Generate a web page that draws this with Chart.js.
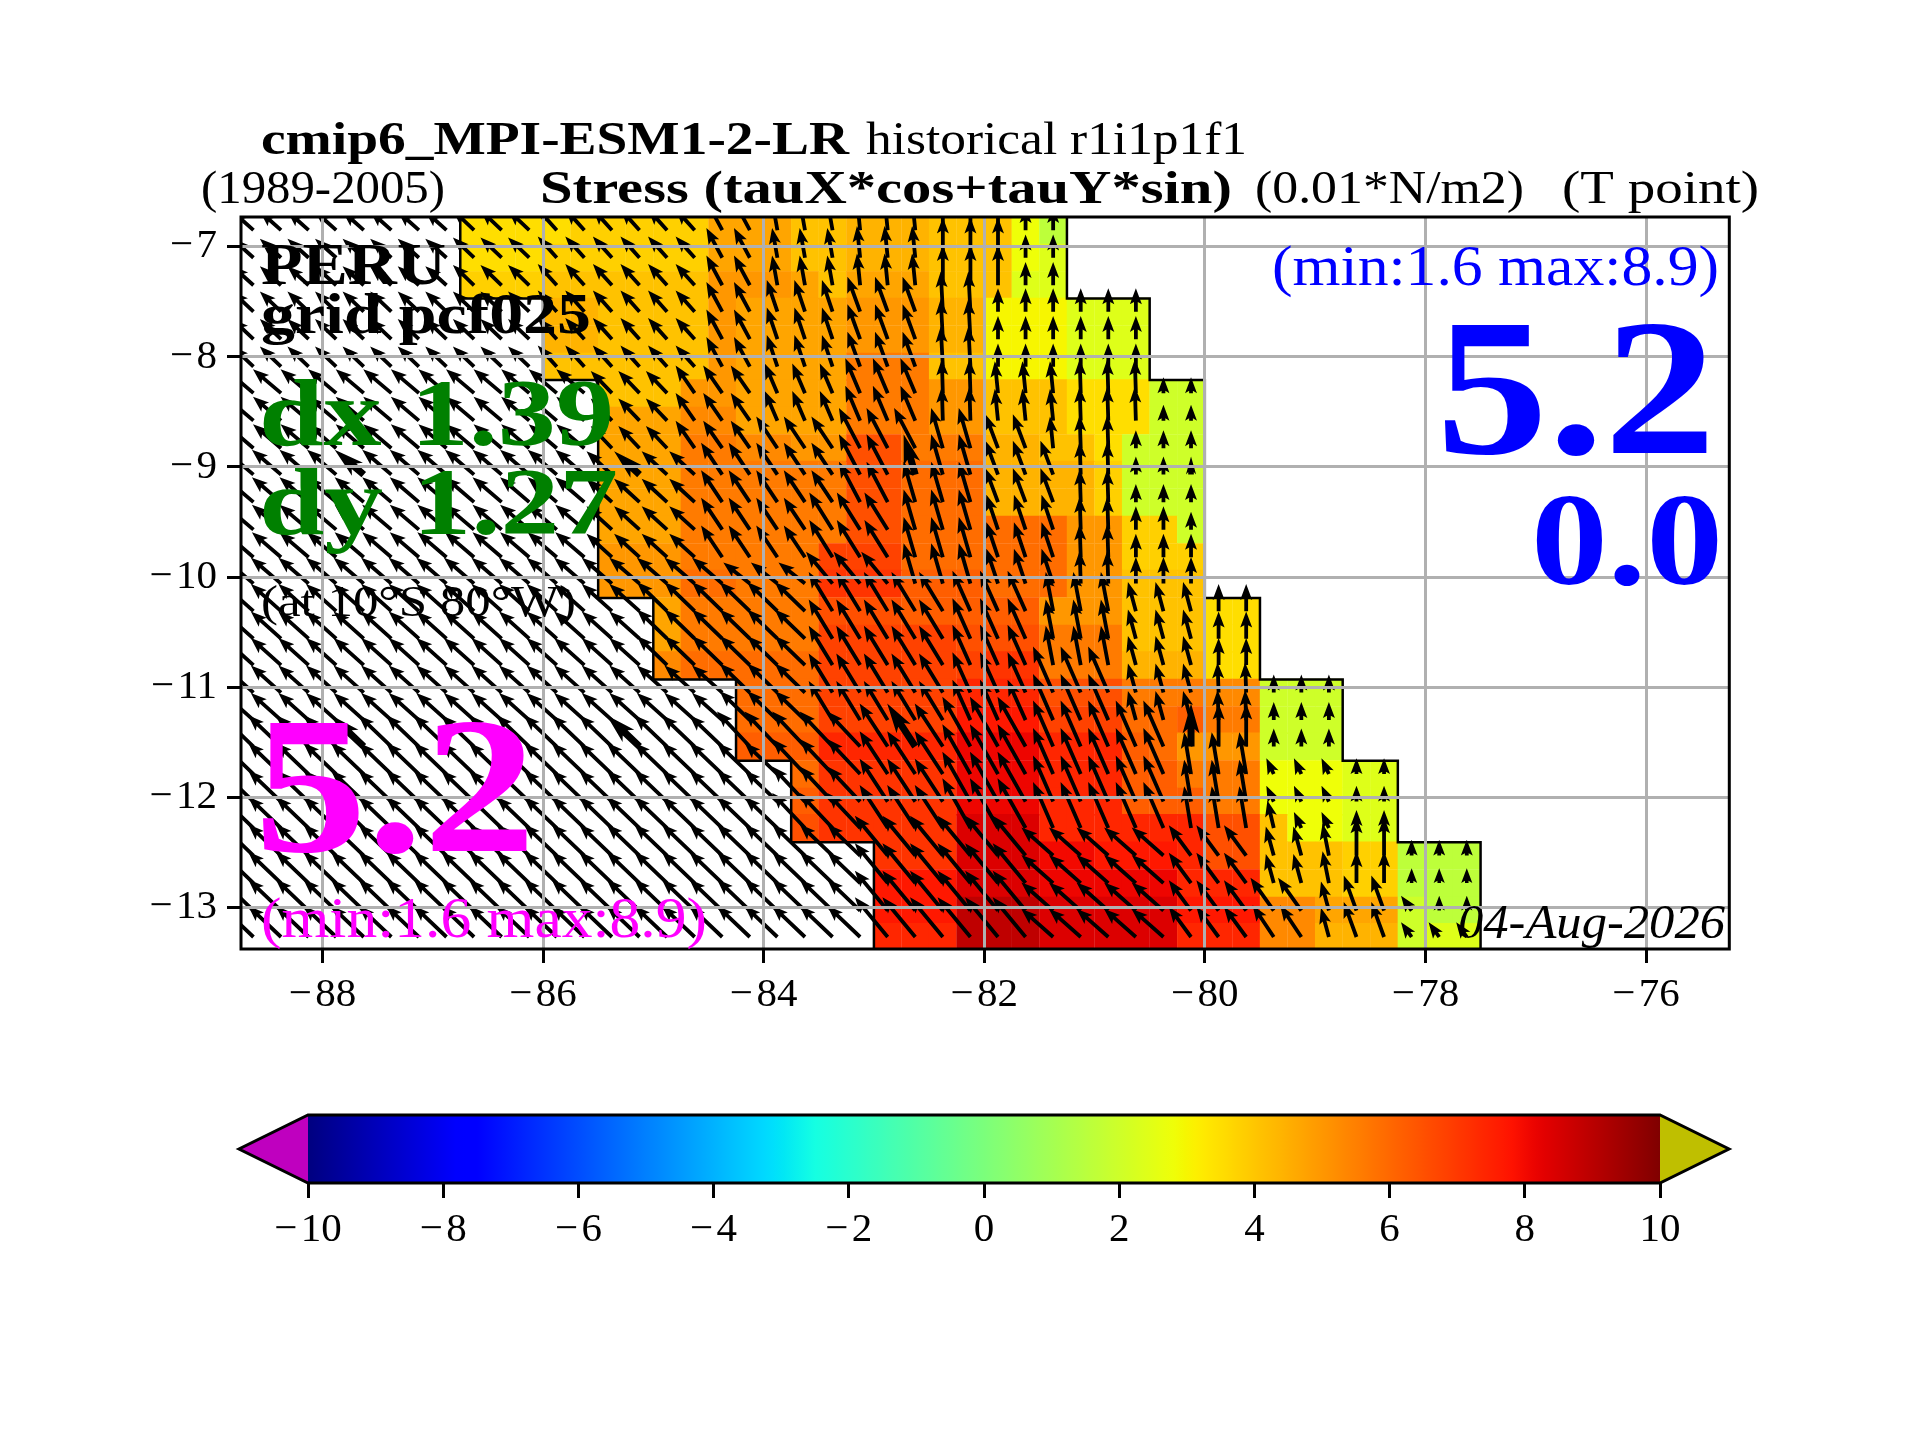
<!DOCTYPE html>
<html>
<head>
<meta charset="utf-8">
<title>Stress along the coast of Peru</title>
<script src="https://cdn.jsdelivr.net/npm/chart.js@4"></script>
<style>
  html, body { margin: 0; background: #fff; }
  canvas { position: absolute; left: 0; top: 0; }
</style>
</head>
<body>
<canvas id="mapCanvas" width="1920" height="1440"></canvas>
<canvas id="barCanvas" width="1920" height="1440"></canvas>
<script>
// Axes
const lonTicks = [-88, -86, -84, -82, -80, -78, -76];
const latTicks = [-7, -8, -9, -10, -11, -12, -13];
const lonRange = [-88.738, -75.245];
const latRange = [-13.379, -6.73];
const colorbarTicks = [-10, -8, -6, -4, -2, 0, 2, 4, 6, 8, 10];

// T point grid, cell centres
const cellLons = [-88.625, -88.375, -88.125, -87.875, -87.625, -87.375, -87.125, -86.875, -86.625,
  -86.375, -86.125, -85.875, -85.625, -85.375, -85.125, -84.875, -84.625, -84.375, -84.125, -83.875,
  -83.625, -83.375, -83.125, -82.875, -82.625, -82.375, -82.125, -81.875, -81.625, -81.375, -81.125,
  -80.875, -80.625, -80.375, -80.125, -79.875, -79.625, -79.375, -79.125, -78.875, -78.625, -78.375,
  -78.125, -77.875, -77.625];
const cellLats = [-6.85, -7.10, -7.35, -7.59, -7.84, -8.09, -8.33, -8.58, -8.83, -9.07, -9.32, -9.57,
  -9.82, -10.06, -10.31, -10.56, -10.80, -11.05, -11.30, -11.54, -11.79, -12.04, -12.28, -12.53,
  -12.78, -13.03, -13.27];

// Stress levels (0.01*N/m2)
const levelKeys = "abcdefghijklmnopqrstuvwx";
const levelValues = [1.6, 2.0, 2.4, 2.8, 3.0, 3.5, 3.8, 4.1, 4.4, 4.7, 5.0, 5.3, 5.6, 5.9, 6.2, 6.5,
  6.8, 7.1, 7.4, 7.7, 8.0, 8.1, 8.4, 8.9];

// One string per latitude, runs of <count><level>, "." is no value
const stressRuns = [
  "8. 4f 5g 3j 2h 3i 3h 1d 1a",
  "8. 3f 6g 3j 2h 3i 3h 1d 1c",
  "8. 3g 6h 3k 1j 1h 3j 3h 2c",
  "11. 2i 4h 1k 4j 3k 2i 3e 3c",
  "11. 2i 4h 1k 4j 3k 2i 3e 3c",
  "11. 6h 1k 4j 3m 2h 3e 3c",
  "13. 3h 2k 4j 3m 2k 3h 3f 2b",
  "13. 3j 2l 4j 3m 2k 3h 3f 2b",
  "13. 3j 2m 2l 2k 2p 3m 2i 2h 1f 3b",
  "13. 3j 6m 2p 3n 4i 1g 3b",
  "13. 3j 6m 2p 3n 4i 1g 3b",
  "13. 3j 6m 2p 6n 2k 2g 1b",
  "13. 3k 5m 3q 6n 2k 3g",
  "13. 3k 2n 3m 3r 3o 3n 2k 3h",
  "15. 1j 5m 3p 5o 3k 3h 2f",
  "15. 1j 5m 5q 3p 3m 3h 2f",
  "15. 1l 5n 6q 2r 3m 3i 2f",
  "18. 3n 5q 3s 3p 3m 2l 3b",
  "18. 3n 5q 3t 3q 2n 1o 2m 3b",
  "18. 3o 5s 3v 3s 1o 1n 3k 3b",
  "20. 1n 5r 3v 3s 2o 3m 3d 2c",
  "20. 1o 5r 3v 3s 3o 2m 3d 2c",
  "20. 1p 5r 3w 6s 2p 1h 2d 2c",
  "23. 3r 3w 2u 3t 1s 2p 3h 2g 3a",
  "23. 3t 3w 5v 3s 3h 2g 3a",
  "23. 3t 3x 5w 3t 2l 3j 1b 2a",
  "23. 3s 3x 5w 3s 2l 3i 1b 2c"
];

// Stress vectors that occur on the map
const arrowKinds = "ABCDEFGHIJKLMNOPQRSUVWXYZabcdefghijklmnopqrtvxyz0126789345";
const arrowU = [-4.0, -4.0, -5.3, -5.5, -5.7, -5.7, -6.2, -3.6, -3.0, -4.0, -1.0, -0.6, 0, 0, -2.0,
  -2.4, -0.4, -2.4, -2.8, -0.2, -4.0, -4.0, -2.2, -2.4, -0.2, 0, -4.4, -2.2, -5.0, -5.0, -5.7, -4.5,
  -3.4, -6.2, -5.3, -5.3, -1.4, -1.5, 0, -1.3, -1.4, 0, 0, -1.2, -4.4, 0, -2.0, -3.8, -3.6, -4.8, 0,
  -6.0, -4.2, -1.2, 0, -6.2, -0.2, 0];
const arrowV = [3.6, 3.8, 4.5, 4.7, 4.9, 5.1, 5.9, 4.0, 5.6, 4.2, 5.6, 6.0, 7.6, 4.4, 6.0, 6.6, 7.6,
  5.6, 6.6, 6.4, 6.0, 7.6, 7.6, 6.4, 6.2, 3.4, 7.0, 6.6, 4.0, 6.0, 5.5, 7.4, 7.6, 6.6, 8.1, 9.4, 7.4,
  5.5, 5.1, 7.9, 3.0, 3.0, 7.2, 5.2, 6.2, 2.8, 2.8, 8.7, 5.2, 4.4, 5.0, 5.3, 5.7, 6.0, 6.0, 7.5, 5.7, 8.1];

const arrowRuns = [
  "8A 3B 6H 2I 3K 3L 3M 2N",
  "8A 3B 6H 2I 3K 3L 3M 2N",
  "8A 3B 6H 2I 3K 3L 3M 2N",
  "11B 6H 2I 3O 3P 2Q 6N",
  "11B 6H 2I 3O 3P 2Q 6N",
  "11B 6H 2I 3O 3P 2Q 6N",
  "13C 3J 30 3R 3S 2U 3L 3U 2q",
  "13C 3J 30 3R 3S 2U 3L 3U 2q",
  "13C 3J 30 3V 3W 2X 2Y 1L 2Z 3a",
  "13D 41 5V 2W 3X 3Y 2Z 3a",
  "13D 41 5V 2W 3X 3Y 2Z 3a",
  "13D 41 4V 3b 3X 3c 2Z 2N 1a",
  "13D 41 4V 3b 3X 3c 2Z 3N",
  "18E 3d 3e 3X 3c 2Z 32",
  "15F 6f 5g 3h 3l 3m 2n",
  "15F 6f 5g 3h 3l 3m 2n",
  "15F 6f 5g 3h 3l 3m 2n",
  "18F 3f 5g 3h 3z 3m 24 3a",
  "18F 3f 5g 3h 3z 3m 24 3a",
  "18G 5i 3j 3k 5z 35 3a",
  "20G 3i 3j 3k 5z 3o 3p 2q",
  "20G 3i 3j 3k 5z 3o 3p 2q",
  "20G 3i 3j 3k 5z 3o 1t 2p 2a",
  "23G 63 56 37 2m 18 2r 3q",
  "23G 63 56 37 2m 18 29 3x",
  "23G 63 56 37 2v 1m 2P 1y 2x",
  "23G 63 56 37 2V 1m 2P 3y"
];
// every tenth arrow of the coarse quiver is drawn heavier
const boldCols = [4, 14, 24, 34];
const boldRows = [9, 19];

// Limits of the coastal band
const westEdgeLon = [-86.75, -86.75, -86.0, -86.0, -85.5, -85.5, -85.0, -85.0, -84.25, -84.25, -83.75, -83.75, -83.0, -83.0];
const westEdgeLat = [-6.73, -7.47, -7.47, -8.21, -8.21, -10.19, -10.19, -10.93, -10.93, -11.67, -11.67, -12.41, -12.41, -13.379];
const eastEdgeLon = [-81.25, -81.25, -80.5, -80.5, -80.0, -80.0, -79.5, -79.5, -78.75, -78.75, -78.25, -78.25, -77.5, -77.5];
const eastEdgeLat = [-6.73, -7.47, -7.47, -8.21, -8.21, -10.19, -10.19, -10.93, -10.93, -11.67, -11.67, -12.41, -12.41, -13.379];

const serif = '"Liberation Serif", serif';
// the minus of the reference font is longer, a hair space brings the label width close
const minus = (v) => String(v).replace('-', '\u2212\u200a');

// Expand "3f 2g" into a list with one entry per column
const expandRuns = (row) => {
  const out = [];
  row.split(' ').forEach(tok => {
    const n = parseInt(tok.slice(0, -1), 10);
    for (let i = 0; i < n; i++) out.push(tok.slice(-1));
  });
  return out;
};

// matplotlib jet, segment by segment
const ramp = (t, pts) => {
  for (let i = 1; i < pts.length; i++) {
    if (t <= pts[i][0]) {
      const [t0, v0] = pts[i - 1], [t1, v1] = pts[i];
      return v0 + (v1 - v0) * (t - t0) / (t1 - t0);
    }
  }
  return pts[pts.length - 1][1];
};
const jet = (v) => {
  const t = (v + 10) / 20;
  const r = ramp(t, [[0, 0], [0.35, 0], [0.66, 1], [0.89, 1], [1, 0.5]]);
  const g = ramp(t, [[0, 0], [0.125, 0], [0.375, 1], [0.64, 1], [0.91, 0], [1, 0]]);
  const b = ramp(t, [[0, 0.5], [0.11, 1], [0.34, 1], [0.65, 0], [1, 0]]);
  return `rgb(${Math.round(r * 255)},${Math.round(g * 255)},${Math.round(b * 255)})`;
};

const cellPoints = [];
stressRuns.forEach((row, r) => {
  expandRuns(row).forEach((key, c) => {
    if (key !== '.') cellPoints.push({ x: cellLons[c], y: cellLats[r], v: levelValues[levelKeys.indexOf(key)] });
  });
});

const arrowPoints = [];
arrowRuns.forEach((row, r) => {
  expandRuns(row).forEach((key, c) => {
    const k = arrowKinds.indexOf(key);
    arrowPoints.push({
      x: cellLons[c], y: cellLats[r], u: arrowU[k], v: arrowV[k],
      bold: boldCols.includes(c) && boldRows.includes(r)
    });
  });
});

// Quiver, tails sit on the cell centres. Shape follows matplotlib's arrow polygon.
const quiverPlugin = {
  id: 'quiver',
  afterDatasetsDraw(chart) {
    const { ctx, chartArea: a } = chart;
    const meta = chart.getDatasetMeta(0);
    const pxPerUnit = 5.3;
    ctx.save();
    ctx.beginPath();
    ctx.rect(a.left, a.top, a.right - a.left, a.bottom - a.top);
    ctx.clip();
    ctx.fillStyle = '#000';
    meta.data.forEach((el, i) => {
      const p = arrowPoints[i];
      const dx = p.u * pxPerUnit, dy = -p.v * pxPerUnit;
      const len = Math.hypot(dx, dy);
      const w = p.bold ? 7 : 3.8;
      const headLen = p.bold ? 30 : 16;
      const k = Math.min(1, len / headLen);
      const hl = headLen * k, hw = (p.bold ? 8.5 : 6) * k, ax = hl * 0.85, sw = (w / 2) * Math.max(k, 0.8);
      const ux = dx / len, uy = dy / len;
      const pt = (along, side) => [el.x + ux * along - uy * side, el.y + uy * along + ux * side];
      const poly = [pt(0, -sw), pt(len - ax, -sw), pt(len - hl, -hw), pt(len, 0), pt(len - hl, hw), pt(len - ax, sw), pt(0, sw)];
      ctx.beginPath();
      poly.forEach(([x, y], j) => (j ? ctx.lineTo(x, y) : ctx.moveTo(x, y)));
      ctx.closePath();
      ctx.fill();
    });
    ctx.restore();
  }
};

// Text squeezed to the width it has in the figure, Computer Modern is wider than what we have here
const fitText = (ctx, text, left, right, base, font, color) => {
  ctx.font = font;
  ctx.fillStyle = color;
  const natural = ctx.measureText(text).width;
  ctx.save();
  ctx.translate(left, base);
  ctx.scale((right - left) / natural, 1);
  ctx.textAlign = 'left';
  ctx.textBaseline = 'alphabetic';
  ctx.fillText(text, 0, 0);
  ctx.restore();
};

const labelsPlugin = {
  id: 'labels',
  afterDraw(chart) {
    const { ctx, chartArea: a } = chart;
    ctx.save();
    ctx.strokeStyle = '#000';
    ctx.lineWidth = 3;
    ctx.strokeRect(a.left, a.top, a.right - a.left, a.bottom - a.top);

    fitText(ctx, 'cmip6_MPI-ESM1-2-LR', 261, 849, 154, `bold 46px ${serif}`, '#000');
    fitText(ctx, 'historical r1i1p1f1', 866, 1247, 154, `46px ${serif}`, '#000');
    fitText(ctx, '(1989-2005)', 201, 445, 203, `46px ${serif}`, '#000');
    fitText(ctx, 'Stress (tauX*cos+tauY*sin)', 540, 1232, 203, `bold 46px ${serif}`, '#000');
    fitText(ctx, '(0.01*N/m2)', 1255, 1524, 203, `46px ${serif}`, '#000');
    fitText(ctx, '(T point)', 1562, 1759, 203, `46px ${serif}`, '#000');

    fitText(ctx, 'PERU', 261, 446, 284, `bold 60px ${serif}`, '#000');
    fitText(ctx, 'grid pcf025', 261, 591, 333, `bold 58px ${serif}`, '#000');
    fitText(ctx, 'dx 1.39', 259, 614, 445, `bold 96px ${serif}`, '#008000');
    fitText(ctx, 'dy 1.27', 259, 618, 534, `bold 96px ${serif}`, '#008000');
    fitText(ctx, '(at 10\u00b0S 80\u00b0W)', 261, 576, 616, `44px ${serif}`, '#000');

    fitText(ctx, '5.2', 254, 536, 851, `bold 194px ${serif}`, '#ff00ff');
    fitText(ctx, '(min:1.6 max:8.9)', 261, 707, 937, `58px ${serif}`, '#ff00ff');

    fitText(ctx, '(min:1.6 max:8.9)', 1272, 1719, 285, `58px ${serif}`, '#0000ff');
    fitText(ctx, '5.2', 1436, 1716, 453, `bold 194px ${serif}`, '#0000ff');
    fitText(ctx, '0.0', 1531, 1723, 584, `bold 132px ${serif}`, '#0000ff');

    fitText(ctx, '04-Aug-2026', 1458, 1725, 938, `italic 48px ${serif}`, '#000');
    ctx.restore();
  }
};

const fixedAxis = (ticks, size, prop) => ({
  afterBuildTicks(scale) { scale.ticks = ticks.map(value => ({ value })); },
  afterFit(scale) { scale[prop] = size; }
});

const mapGrid = { color: '#b0b0b0', lineWidth: 3, tickColor: '#000', tickWidth: 3, tickLength: 14, z: 1 };
const tickFont = { family: serif, size: 41 };

new Chart(document.getElementById('mapCanvas'), {
  type: 'scatter',
  data: {
    datasets: [
      { label: 'stress vectors', data: arrowPoints, pointRadius: 0, order: 0 },
      { label: 'west edge', data: westEdgeLon.map((x, i) => ({ x, y: westEdgeLat[i] })), showLine: true, borderColor: '#000', borderWidth: 2.5, pointRadius: 0, order: 1 },
      { label: 'east edge', data: eastEdgeLon.map((x, i) => ({ x, y: eastEdgeLat[i] })), showLine: true, borderColor: '#000', borderWidth: 2.5, pointRadius: 0, order: 1 },
      {
        label: 'stress',
        data: cellPoints,
        order: 2,
        pointStyle: 'rect',
        pointBorderWidth: 0,
        pointBackgroundColor: (ctx) => jet(ctx.raw ? ctx.raw.v : 0),
        // rect side is sqrt(2) * radius, one cell wide
        pointRadius: (ctx) => {
          const x = ctx.chart.scales.x;
          return Math.abs(x.getPixelForValue(cellLons[1]) - x.getPixelForValue(cellLons[0])) * Math.SQRT1_2 + 0.2;
        }
      }
    ]
  },
  options: {
    responsive: false,
    animation: false,
    devicePixelRatio: 1,
    events: [],
    layout: { padding: { top: 217, right: 190.7, left: 0, bottom: 0 } },
    plugins: { legend: { display: false }, tooltip: { enabled: false } },
    scales: {
      x: {
        type: 'linear', min: lonRange[0], max: lonRange[1],
        grid: mapGrid, border: { display: false },
        ticks: { font: tickFont, color: '#000', padding: 8, maxRotation: 0, autoSkip: false, callback: minus },
        ...fixedAxis(lonTicks, 491, 'height')
      },
      y: {
        type: 'linear', min: latRange[0], max: latRange[1],
        grid: mapGrid, border: { display: false },
        ticks: { font: tickFont, color: '#000', padding: 10, autoSkip: false, callback: minus },
        ...fixedAxis(latTicks, 241, 'width')
      }
    }
  },
  plugins: [quiverPlugin, labelsPlugin]
});

// Colorbar with the two extensions
const colorbarPlugin = {
  id: 'colorbar',
  beforeDatasetsDraw(chart) {
    const { ctx, chartArea: a, scales } = chart;
    const tip = 69, mid = (a.top + a.bottom) / 2;
    const x0 = scales.x.getPixelForValue(-10), x1 = scales.x.getPixelForValue(10);
    const grad = ctx.createLinearGradient(x0, 0, x1, 0);
    for (let i = 0; i <= 128; i++) grad.addColorStop(i / 128, jet(-10 + 20 * i / 128));
    ctx.save();
    ctx.fillStyle = grad;
    ctx.fillRect(x0, a.top, x1 - x0, a.bottom - a.top);
    ctx.fillStyle = '#bf00bf';
    ctx.beginPath(); ctx.moveTo(x0, a.top); ctx.lineTo(x0 - tip, mid); ctx.lineTo(x0, a.bottom); ctx.closePath(); ctx.fill();
    ctx.fillStyle = '#bfbf00';
    ctx.beginPath(); ctx.moveTo(x1, a.top); ctx.lineTo(x1 + tip, mid); ctx.lineTo(x1, a.bottom); ctx.closePath(); ctx.fill();
    ctx.strokeStyle = '#000';
    ctx.lineWidth = 3;
    ctx.lineJoin = 'miter';
    ctx.beginPath();
    ctx.moveTo(x0, a.top); ctx.lineTo(x1, a.top); ctx.lineTo(x1 + tip, mid); ctx.lineTo(x1, a.bottom);
    ctx.lineTo(x0, a.bottom); ctx.lineTo(x0 - tip, mid); ctx.closePath();
    ctx.stroke();
    ctx.restore();
  }
};

new Chart(document.getElementById('barCanvas'), {
  type: 'scatter',
  data: { datasets: [{ data: [] }] },
  options: {
    responsive: false,
    animation: false,
    devicePixelRatio: 1,
    events: [],
    layout: { padding: { top: 1115, left: 308, right: 260, bottom: 0 } },
    plugins: { legend: { display: false }, tooltip: { enabled: false } },
    scales: {
      x: {
        type: 'linear', min: -10, max: 10,
        grid: { drawOnChartArea: false, tickColor: '#000', tickWidth: 3, tickLength: 15 },
        border: { display: false },
        ticks: { font: tickFont, color: '#000', padding: 8, maxRotation: 0, autoSkip: false, callback: minus },
        ...fixedAxis(colorbarTicks, 257, 'height')
      },
      y: { display: false, min: 0, max: 1 }
    }
  },
  plugins: [colorbarPlugin]
});
</script>
</body>
</html>
